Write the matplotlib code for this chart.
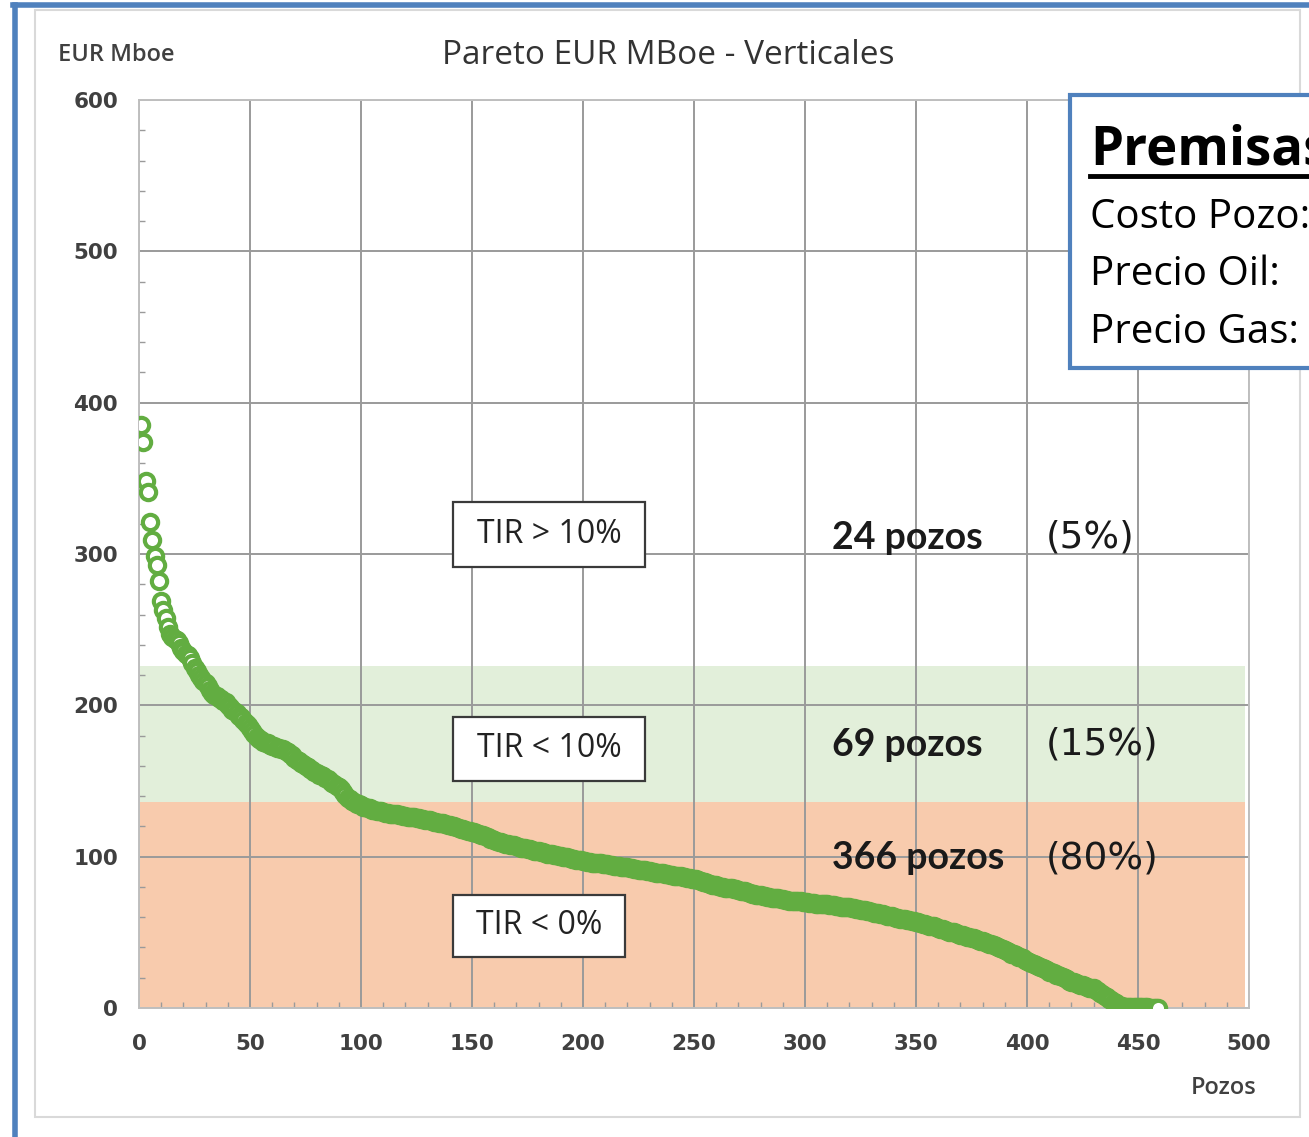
import matplotlib
matplotlib.use("Agg")
import matplotlib.pyplot as plt
import numpy as np
from matplotlib.patches import Rectangle
from matplotlib.lines import Line2D
from matplotlib.ticker import MultipleLocator

# EUR per well (Mboe), sorted high to low
eur_mboe = [
    385, 374, 348, 341, 321, 309, 299, 293, 282, 269,
    263, 258, 252, 247, 245, 244, 243, 241, 238, 236,
    234, 233, 231, 228, 225, 223, 220, 218, 216, 215,
    213, 210, 208, 207, 206, 205, 204, 203, 202, 200,
    199, 197, 196, 195, 193, 192, 190, 188, 187, 185,
    183, 181, 179, 178, 177, 176, 175, 175, 174, 173,
    173, 172, 172, 171, 171, 170, 169, 168, 167, 165,
    164, 163, 162, 161, 160, 159, 158, 157, 156, 155,
    154, 154, 153, 152, 151, 150, 149, 148, 147, 146,
    145, 143, 141, 139, 138, 137, 136, 135, 135, 134,
    133, 133, 132, 132, 131, 131, 130.5, 130, 130, 129.5,
    129, 129, 128.5, 128.5, 128, 128, 127.5, 127.5, 127, 127,
    126.5, 126.5, 126, 126, 125.5, 125.5, 125, 125, 124.5, 124.5,
    124, 123.5, 123, 123, 122.5, 122, 122, 121.5, 121, 121,
    120.5, 120, 119.5, 119, 118.5, 118, 117.5, 117, 117, 116.5,
    116, 115.5, 115, 114.5, 114, 113.5, 113, 112, 111.5, 111,
    110.5, 110, 109.5, 109, 108.5, 108.5, 108, 107.5, 107.5, 107,
    106.5, 106, 106, 105.5, 105, 105, 104.5, 104, 104, 103.5,
    103, 103, 102.5, 102, 102, 101.5, 101, 101, 100.5, 100.5,
    100, 99.5, 99.5, 99, 98.5, 98.5, 98, 97.5, 97.5, 97,
    97, 96.5, 96.5, 96, 96, 96, 95.5, 95.5, 95, 95,
    95, 94.5, 94.5, 94, 94, 94, 93.5, 93.5, 93, 93,
    92.5, 92.5, 92, 92, 91.5, 91.5, 91, 91, 90.5, 90.5,
    90, 90, 89.5, 89.5, 89, 89, 88.5, 88.5, 88, 88,
    87.5, 87.5, 87, 87, 86.5, 86.5, 86, 86, 85.5, 85.5,
    85, 84.5, 84, 83.5, 83, 82.5, 82, 81.5, 81.5, 81,
    80.5, 80, 80, 79.5, 79.5, 79, 79, 78.5, 78.5, 78,
    77.5, 77, 77, 76.5, 76, 75.5, 75.5, 75, 75, 74.5,
    74, 74, 73.5, 73.5, 73, 73, 72.5, 72.5, 72, 72,
    71.5, 71.5, 71, 71, 71, 70.5, 70.5, 70.5, 70, 70,
    70, 69.5, 69.5, 69.5, 69, 69, 69, 68.5, 68.5, 68.5,
    68, 68, 68, 67.5, 67.5, 67, 67, 67, 66.5, 66.5,
    66, 66, 65.5, 65.5, 65, 65, 64.5, 64, 64, 63.5,
    63, 63, 62.5, 62, 62, 61.5, 61, 61, 60.5, 60,
    59.5, 59.5, 59, 58.5, 58.5, 58, 58, 57.5, 57.5, 57,
    56.5, 56, 55.5, 55.5, 55, 54.5, 54, 54, 53.5, 53,
    52.5, 52, 51.5, 51, 50.5, 50, 50, 49.5, 49, 48.5,
    48, 47.5, 47, 47, 46.5, 46, 45.5, 45, 44.5, 44,
    43.5, 43, 42.5, 42, 41.5, 41, 40, 39.5, 39, 38,
    37.5, 37, 36, 35.5, 35, 34, 33.5, 33, 32, 31,
    30.5, 30, 29, 28.5, 28, 27, 26.5, 26, 25, 24,
    23.5, 23, 22, 21.5, 21, 20.5, 19.5, 19, 18, 17.5,
    17, 16.5, 16, 15.5, 15, 14.5, 14, 13.5, 13.5, 13,
    12, 11, 10, 9, 8, 7, 6, 5, 4, 3,
    2, 1.5, 1, 0.5, 0.5, 0.5, 0.5, 0.5, 0.5, 0.5,
    0.5, 0.5, 0.5, 0.5, 0, 0, 0, 0, 0,
]
well_rank = list(range(1, len(eur_mboe) + 1))

# TIR bands (Mboe limits)
band_limits = [0, 136, 226]
band_labels = ["TIR > 10%", "TIR < 10%", "TIR < 0%"]
count_labels = ["24 pozos", "69 pozos", "366 pozos"]
share_labels = ["(5%)", "(15%)", "(80%)"]
premisas_lines = ["Costo Pozo:", "Precio Oil:", "Precio Gas:"]

TXT = "#404040"
GRID = "#9a9a9a"
GREEN = "#62ad41"
BLUE = "#4f81bd"

fig = plt.figure(figsize=(13.09, 11.37), dpi=100)
W, H = 1309, 1137


def fx(px):
    return px / W


def fy(py):
    return 1 - py / H


# outer frames
fig.patches.append(Rectangle((fx(35), fy(1117)), fx(1300) - fx(35), fy(10) - fy(1117),
                             transform=fig.transFigure, fill=False, ec="#d9d9d9", lw=1.5))
fig.lines.append(Line2D([fx(15), fx(15)], [0, fy(5)], transform=fig.transFigure, color=BLUE, lw=4))
fig.lines.append(Line2D([fx(13), 1], [fy(5), fy(5)], transform=fig.transFigure, color=BLUE, lw=4))

ax = fig.add_axes([fx(139), fy(1008), fx(1249) - fx(139), fy(100) - fy(1008)])

ax.axhspan(band_limits[1], band_limits[2], xmin=0, xmax=0.996, color="#e2efda", zorder=0, lw=0)
ax.axhspan(band_limits[0], band_limits[1], xmin=0, xmax=0.996, color="#f8cbad", zorder=0, lw=0)

ax.plot(well_rank, eur_mboe, ls="none", marker="o", ms=11, mfc="white", mec=GREEN, mew=3, zorder=3)

ax.set_xlim(0, 500)
ax.set_ylim(0, 600)
ax.xaxis.set_major_locator(MultipleLocator(50))
ax.yaxis.set_major_locator(MultipleLocator(100))
ax.xaxis.set_minor_locator(MultipleLocator(10))
ax.yaxis.set_minor_locator(MultipleLocator(20))
ax.grid(which="major", color=GRID, lw=1.4, zorder=1)
ax.set_axisbelow(True)
ax.tick_params(which="major", length=0, labelsize=15.5, labelcolor=TXT)
ax.tick_params(axis="x", which="major", pad=19)
ax.tick_params(axis="y", which="major", pad=15)
ax.tick_params(which="minor", direction="in", length=4, color=GRID, width=1)
for lab in ax.get_xticklabels() + ax.get_yticklabels():
    lab.set_fontweight("semibold")
for s in ax.spines.values():
    s.set_color("#bfbfbf")
    s.set_linewidth(1.4)

# band boxes
box_spans = [(141.4, 227.9, 291.5, 334.4), (141.4, 227.9, 150, 192.3), (141.4, 218.9, 33.7, 74.7)]
for (x0, x1, y0, y1), lab in zip(box_spans, band_labels):
    ax.add_patch(Rectangle((x0, y0), x1 - x0, y1 - y0, fc="white", ec="#3a3a3a", lw=1.6, zorder=4))
    ax.text((x0 + x1) / 2, (y0 + y1) / 2, lab, ha="center", va="center", fontsize=23,
            family="Open Sans", color="#222222", zorder=5)

label_y = [310.6, 173.8, 99]
for y, c, s in zip(label_y, count_labels, share_labels):
    ax.text(312, y, c, ha="left", va="center", fontsize=27, fontweight="bold", family="Lato",
            color="#1a1a1a", zorder=5)
    ax.text(408.6, y, s, ha="left", va="center", fontsize=27, family="DejaVu Sans", color="#1a1a1a", zorder=5)

fig.text(fx(668), fy(55), "Pareto EUR MBoe - Verticales", ha="center", va="center",
         fontsize=24, family="Open Sans", color="#333333")
fig.text(fx(58), fy(55), "EUR Mboe", ha="left", va="center", fontsize=17, family="Open Sans",
         fontweight="semibold", color=TXT)
fig.text(fx(1224), fy(1088), "Pozos", ha="center", va="center", fontsize=17, family="Open Sans",
         fontweight="semibold", color=TXT)

# Premisas box
fig.patches.append(Rectangle((fx(1070), fy(368)), 0.2, fy(95) - fy(368), transform=fig.transFigure,
                             fc="white", ec=BLUE, lw=3, zorder=10))
fig.text(fx(1090), fy(165), "Premisas", ha="left", va="baseline", fontsize=38, fontweight="bold",
         family="Open Sans", color="black", zorder=11)
fig.lines.append(Line2D([fx(1090), 1], [fy(176), fy(176)], transform=fig.transFigure, color="black",
                        lw=3.5, zorder=11))
for i, t in enumerate(premisas_lines):
    fig.text(fx(1090), fy(228 + 57.5 * i), t, ha="left", va="baseline", fontsize=29,
             family="Open Sans", color="black", zorder=11)

fig.savefig("out.png", dpi=100)
